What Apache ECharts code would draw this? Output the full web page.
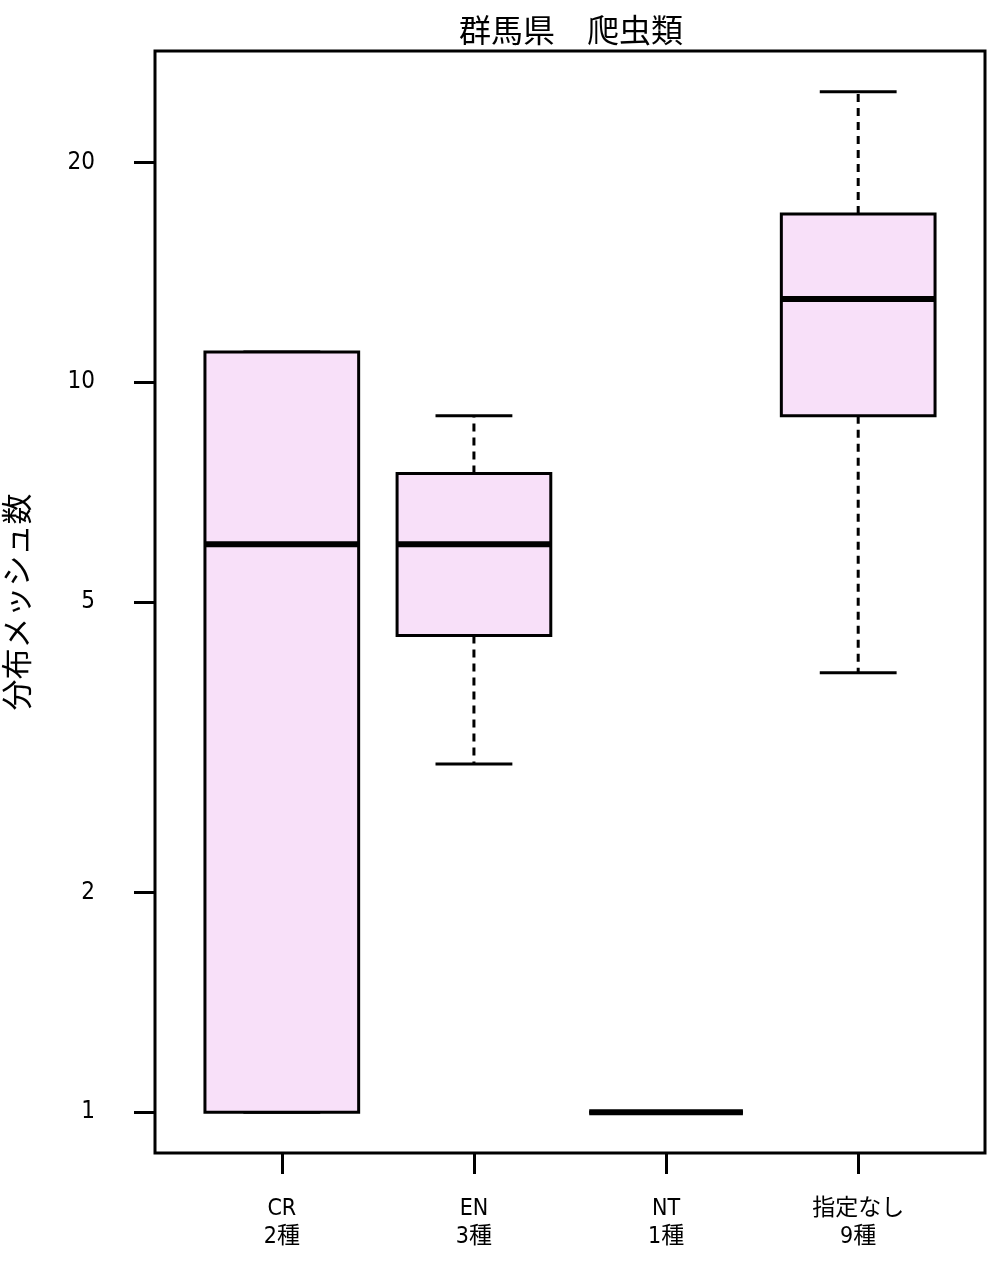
<!DOCTYPE html>
<html>
<head>
<meta charset="utf-8">
<script src="https://cdn.jsdelivr.net/npm/echarts@6/dist/echarts.min.js"></script>
<style>
html,body{margin:0;padding:0;background:#fff;}
#chart{width:1004px;height:1274px;}
</style>
</head>
<body>
<div id="chart"></div>
<script>
// ---- data ----
var categories = ['CR', 'EN', 'NT', '指定なし'];
var speciesCounts = [2, 3, 1, 9];
var mins    = [1, 3,   1, 4];
var q1s     = [1, 4.5, 1, 9];
var medians = [6, 6,   1, 13];
var q3s     = [11, 7.5, 1, 17];
var maxs    = [11, 9,   1, 25];
var yTickValues = [1, 2, 5, 10, 20];
var titleText = '群馬県　爬虫類';
var yAxisName = '分布メッシュ数';

// ---- layout constants ----
var logMin = -0.0559, logMax = 1.4538;
var latinFont = "'Liberation Sans Narrow', 'DejaVu Sans Condensed', 'Noto Sans CJK JP', sans-serif";
var cjkFont = "'Noto Sans CJK JP', sans-serif";

var boxData = categories.map(function (c, i) {
  return [i + 1, mins[i], q1s[i], medians[i], q3s[i], maxs[i]];
});

function renderBox(params, api) {
  var x = api.value(0);
  var vmin = api.value(1), vq1 = api.value(2), vmed = api.value(3), vq3 = api.value(4), vmax = api.value(5);
  var hw = 0.4, cw = 0.2;
  function P(dx, v) { return api.coord([x + dx, v]); }
  var black = '#000';
  var lw = 3;
  var children = [];
  var a = P(0, vq3), b = P(0, vmax), c = P(0, vq1), d = P(0, vmin);
  children.push({type: 'line', shape: {x1: a[0], y1: a[1], x2: b[0], y2: b[1]},
    style: {stroke: black, lineWidth: lw, lineDash: [8, 6]}});
  children.push({type: 'line', shape: {x1: c[0], y1: c[1], x2: d[0], y2: d[1]},
    style: {stroke: black, lineWidth: lw, lineDash: [8, 6]}});
  var t1 = P(-cw, vmax), t2 = P(cw, vmax), b1 = P(-cw, vmin), b2 = P(cw, vmin);
  children.push({type: 'line', shape: {x1: t1[0], y1: t1[1], x2: t2[0], y2: t2[1]},
    style: {stroke: black, lineWidth: lw}});
  children.push({type: 'line', shape: {x1: b1[0], y1: b1[1], x2: b2[0], y2: b2[1]},
    style: {stroke: black, lineWidth: lw}});
  var tl = P(-hw, vq3), br = P(hw, vq1);
  children.push({type: 'rect', shape: {x: tl[0], y: tl[1], width: br[0] - tl[0], height: br[1] - tl[1]},
    style: {fill: '#F8E0F9', stroke: black, lineWidth: lw}});
  var m1 = P(-hw, vmed), m2 = P(hw, vmed);
  children.push({type: 'line', shape: {x1: m1[0], y1: m1[1], x2: m2[0], y2: m2[1]},
    style: {stroke: black, lineWidth: 6}});
  return {type: 'group', children: children};
}

var chart = echarts.init(document.getElementById('chart'), null, {renderer: 'canvas'});
chart.setOption({
  animation: false,
  backgroundColor: '#fff',
  title: {
    text: titleText,
    left: 566,
    textAlign: 'center',
    top: 9,
    textStyle: {fontFamily: cjkFont, fontSize: 32, fontWeight: 'normal', color: '#000'}
  },
  grid: {
    left: 155, top: 51, width: 830, height: 1102,
    containLabel: false, outerBoundsMode: 'none',
    show: true, borderColor: '#000', borderWidth: 3, backgroundColor: 'transparent'
  },
  xAxis: {
    type: 'value', min: 0.34, max: 4.66, position: 'bottom',
    splitLine: {show: false},
    axisLine: {show: false, onZero: false},
    axisTick: {show: true, length: 21, inside: false, customValues: [1, 2, 3, 4],
      lineStyle: {color: '#000', width: 3}},
    axisLabel: {
      customValues: [1, 2, 3, 4],
      margin: 42,
      formatter: function (v) {
        var i = Math.round(v) - 1;
        return categories[i] + '\n' + speciesCounts[i] + '種';
      },
      fontFamily: latinFont, fontSize: 23, lineHeight: 28, color: '#000', align: 'center'
    }
  },
  yAxis: [
    {
      type: 'log', logBase: 10,
      min: Math.pow(10, logMin), max: Math.pow(10, logMax),
      show: false
    },
    {
      type: 'value', position: 'left',
      min: logMin, max: logMax,
      name: yAxisName, nameLocation: 'middle', nameGap: 123, nameRotate: 90,
      nameTextStyle: {fontFamily: cjkFont, fontSize: 31, color: '#000'},
      splitLine: {show: false},
      axisLine: {show: false, onZero: false},
      axisTick: {show: true, length: 21, inside: false,
        customValues: yTickValues.map(function (v) { return Math.log10(v); }),
        lineStyle: {color: '#000', width: 3}},
      axisLabel: {
        customValues: yTickValues.map(function (v) { return Math.log10(v); }),
        margin: 60,
        formatter: function (v) { return String(Math.round(Math.pow(10, v))); },
        fontFamily: latinFont, fontSize: 24, color: '#000'
      }
    }
  ],
  series: [{
    type: 'custom',
    xAxisIndex: 0, yAxisIndex: 0,
    renderItem: renderBox,
    encode: {x: 0, y: [1, 2, 3, 4, 5]},
    data: boxData,
    clip: false
  }]
});
</script>
</body>
</html>
